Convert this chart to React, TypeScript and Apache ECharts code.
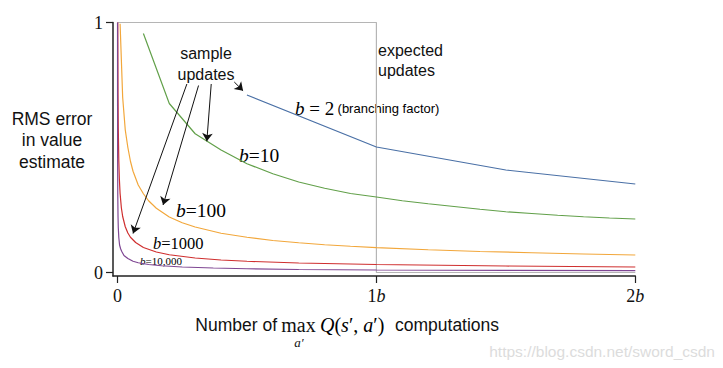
import React, { useEffect, useRef } from "react";
import * as echarts from "echarts";

// ---- data (x in units of b computations, y = RMS error) ----
const xB2 = [0.5, 1.0, 1.5, 2.0];
const yB2 = [0.71, 0.502, 0.41, 0.354];

const xB10 = [0.1, 0.2, 0.3, 0.4, 0.5, 0.6, 0.7, 0.8, 0.9, 1.0, 1.1, 1.2, 1.3, 1.4, 1.5, 1.6, 1.7, 1.8, 1.9, 2.0];
const yB10 = [0.956, 0.676, 0.555, 0.49, 0.435, 0.395, 0.362, 0.337, 0.316, 0.302, 0.287, 0.275, 0.264, 0.253, 0.243, 0.236, 0.229, 0.223, 0.218, 0.214];

const xB100 = [0.01, 0.02, 0.03, 0.04, 0.05, 0.06, 0.08, 0.1, 0.12, 0.15, 0.2, 0.25, 0.3, 0.4, 0.5, 0.6, 0.7, 0.8, 0.9, 1.0, 1.2, 1.4, 1.6, 1.8, 2.0];
const yB100 = [0.995, 0.70, 0.57, 0.50, 0.445, 0.405, 0.35, 0.315, 0.287, 0.257, 0.222, 0.199, 0.182, 0.157, 0.141, 0.128, 0.119, 0.111, 0.105, 0.0995, 0.091, 0.084, 0.079, 0.074, 0.070];

const xB1000 = [0.001, 0.002, 0.003, 0.005, 0.007, 0.01, 0.015, 0.02, 0.03, 0.04, 0.05, 0.07, 0.1, 0.15, 0.2, 0.3, 0.4, 0.5, 0.7, 1.0, 1.5, 2.0];
const yB1000 = [1.0, 0.707, 0.577, 0.447, 0.378, 0.316, 0.258, 0.224, 0.183, 0.158, 0.141, 0.12, 0.1, 0.082, 0.071, 0.058, 0.05, 0.045, 0.038, 0.032, 0.026, 0.022];

const xB10000 = [0.0001, 0.0002, 0.0005, 0.001, 0.002, 0.003, 0.005, 0.008, 0.012, 0.016, 0.025, 0.04, 0.06, 0.08, 0.12, 0.17, 0.25, 0.37, 0.5, 0.7, 1.0, 1.5, 2.0];
const yB10000 = [1.0, 0.707, 0.447, 0.316, 0.224, 0.18, 0.14, 0.11, 0.095, 0.085, 0.068, 0.056, 0.045, 0.039, 0.032, 0.027, 0.022, 0.018, 0.015, 0.012, 0.01, 0.0085, 0.0075];

const xExpected = [0, 1, 1, 2];
const yExpected = [1, 1, 0, 0];

const xTicks = [0, 1, 2];
const yTicks = [0, 1];

// arrows: [start, tip] in data coordinates
const arrows = [
  [[0.268, 0.754], [0.06, 0.156]],
  [[0.313, 0.748], [0.176, 0.27]],
  [[0.362, 0.754], [0.345, 0.525]],
  [[0.451, 0.762], [0.485, 0.727]],
];

const zip = (xs: number[], ys: number[]) => xs.map((x, i) => [x, ys[i]]);

const SERIF = '"Liberation Serif", "DejaVu Serif", serif';
const SANS = '"Liberation Sans", Arial, sans-serif';

const bRich = (size: number) => ({
  i: { fontFamily: SERIF, fontStyle: "italic", fontSize: size, color: "#111" },
  n: { fontFamily: SERIF, fontSize: size, color: "#111" },
  s: { fontFamily: SANS, fontSize: 13, color: "#111" },
});

function lineSeries(name: string, data: number[][], color: string, z = 2) {
  return {
    name,
    type: "line",
    data,
    showSymbol: false,
    symbol: "none",
    z,
    silent: true,
    lineStyle: { color, width: 1.2 },
  };
}

export default function App() {
  const ref = useRef<HTMLDivElement>(null);
  useEffect(() => {
    const chart = echarts.init(ref.current!, null, { renderer: "svg" });
    const option: any = {
      animation: false,
      backgroundColor: "#fff",
      grid: { left: 113, right: 87.7, top: 22.5, bottom: 92 },
      xAxis: {
        type: "value",
        min: -0.0174,
        max: 2,
        axisLine: { show: true, onZero: false, lineStyle: { color: "#222", width: 1.5 } },
        axisTick: { show: true, customValues: xTicks, length: 7, lineStyle: { color: "#222", width: 1.2 } },
        axisLabel: {
          customValues: xTicks,
          margin: 11,
          formatter: (v: number) => (v === 0 ? "{n|0}" : `{n|${v}}{i|b}`),
          rich: bRich(18),
        },
        splitLine: { show: false },
      },
      yAxis: {
        type: "value",
        min: -0.014,
        max: 1,
        axisLine: { show: true, onZero: false, lineStyle: { color: "#222", width: 1.5 } },
        axisTick: { show: true, customValues: yTicks, length: 7, lineStyle: { color: "#222", width: 1.2 } },
        axisLabel: {
          customValues: yTicks,
          margin: 10,
          fontFamily: SERIF,
          fontSize: 18,
          color: "#111",
        },
        splitLine: { show: false },
      },
      series: [
        {
          ...lineSeries("expected updates", zip(xExpected, yExpected), "#b5b5b5", 1),
          markLine: {
            silent: true,
            symbol: ["none", "arrow"],
            symbolSize: 8,
            label: { show: false },
            lineStyle: { color: "#111", width: 1, type: "solid" },
            emphasis: { disabled: true },
            data: arrows.map(([a, b]) => [{ coord: a }, { coord: b }]),
          },
        },
        lineSeries("b=2", zip(xB2, yB2), "#4a70a6"),
        lineSeries("b=10", zip(xB10, yB10), "#62a04a"),
        lineSeries("b=100", zip(xB100, yB100), "#f2a73b"),
        lineSeries("b=1000", zip(xB1000, yB1000), "#cf2f2f", 3),
        lineSeries("b=10000", zip(xB10000, yB10000), "#7f4793", 3),
      ],
      graphic: [
        {
          type: "text",
          x: 52,
          y: 140,
          style: {
            text: "RMS error\nin value\nestimate",
            font: `17.5px ${SANS}`,
            fill: "#111",
            align: "center",
            verticalAlign: "middle",
            lineHeight: 21.5,
          },
        },
        {
          type: "text",
          x: 206,
          y: 63.5,
          style: {
            text: "sample\nupdates",
            font: `16px ${SANS}`,
            fill: "#111",
            align: "center",
            verticalAlign: "middle",
            lineHeight: 21,
          },
        },
        {
          type: "text",
          x: 378,
          y: 60.7,
          style: {
            text: "expected\nupdates",
            font: `16px ${SANS}`,
            fill: "#111",
            align: "left",
            verticalAlign: "middle",
            lineHeight: 20,
          },
        },
        {
          type: "text",
          x: 295,
          y: 108,
          style: {
            text: "{i|b}{n| = 2} {s|(branching factor)}",
            rich: bRich(19),
            align: "left",
            verticalAlign: "middle",
          },
        },
        {
          type: "text",
          x: 239,
          y: 155,
          style: { text: "{i|b}{n|=10}", rich: bRich(19.5), align: "left", verticalAlign: "middle" },
        },
        {
          type: "text",
          x: 176,
          y: 210,
          style: { text: "{i|b}{n|=100}", rich: bRich(19.5), align: "left", verticalAlign: "middle" },
        },
        {
          type: "text",
          x: 153,
          y: 243,
          style: { text: "{i|b}{n|=1000}", rich: bRich(16.5), align: "left", verticalAlign: "middle" },
        },
        {
          type: "text",
          x: 140,
          y: 261,
          style: { text: "{i|b}{n|=10,000}", rich: bRich(11), align: "left", verticalAlign: "middle" },
        },
        // x-axis title
        {
          type: "text",
          x: 277,
          y: 325,
          style: { text: "Number of", font: `17.5px ${SANS}`, fill: "#111", align: "right", verticalAlign: "middle" },
        },
        {
          type: "text",
          x: 298.5,
          y: 325,
          style: { text: "max", font: `20px ${SERIF}`, fill: "#111", align: "center", verticalAlign: "middle" },
        },
        {
          type: "text",
          x: 299,
          y: 342,
          style: { text: "a′", font: `italic 13px ${SERIF}`, fill: "#111", align: "center", verticalAlign: "middle" },
        },
        {
          type: "text",
          x: 320,
          y: 325,
          style: {
            text: "{i|Q}{n|(}{i|s}{n|′, }{i|a}{n|′)}",
            rich: {
              i: { fontFamily: SERIF, fontStyle: "italic", fontSize: 20, color: "#111" },
              n: { fontFamily: SERIF, fontSize: 20, color: "#111" },
            },
            align: "left",
            verticalAlign: "middle",
          },
        },
        {
          type: "text",
          x: 395,
          y: 325,
          style: { text: "computations", font: `17.5px ${SANS}`, fill: "#111", align: "left", verticalAlign: "middle" },
        },
        {
          type: "text",
          x: 715,
          y: 351,
          style: {
            text: "https://blog.csdn.net/sword_csdn",
            font: `15.5px ${SANS}`,
            fill: "#dcdcdc",
            align: "right",
            verticalAlign: "middle",
          },
        },
      ],
    };
    chart.setOption(option);
    return () => chart.dispose();
  }, []);
  return (
    <div
      ref={ref}
      style={{ position: "fixed", left: 0, top: 0, width: 723, height: 368, background: "#fff" }}
    />
  );
}
